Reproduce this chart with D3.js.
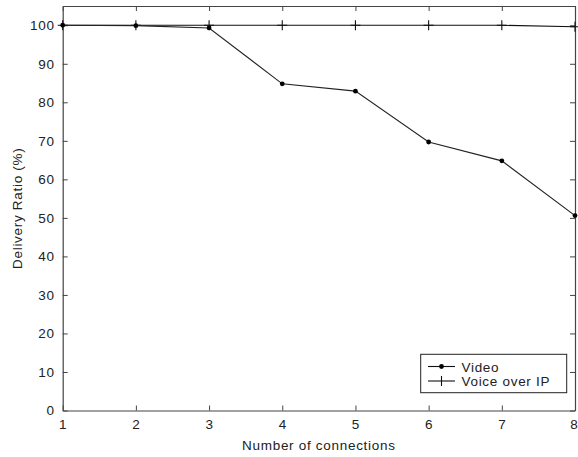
<!DOCTYPE html>
<html>
<head>
<meta charset="utf-8">
<script src="https://cdn.jsdelivr.net/npm/d3@7"></script>
<style>
  html, body { margin: 0; padding: 0; background: #fff; }
  svg text { font-family: "Liberation Sans", Arial, sans-serif; fill: #222; letter-spacing: 0.7px; }
</style>
</head>
<body>
<svg id="chart" width="578" height="457"></svg>
<script>
// Delivery ratio per number of connections
const connections = [1, 2, 3, 4, 5, 6, 7, 8];
const videoRatio = [100, 99.9, 99.3, 84.8, 82.9, 69.7, 64.8, 50.6];
const voipRatio = [100, 100, 100, 100, 100, 100, 100, 99.6];
const xTicks = [1, 2, 3, 4, 5, 6, 7, 8];
const yTicks = [0, 10, 20, 30, 40, 50, 60, 70, 80, 90, 100];
const seriesNames = ["Video", "Voice over IP"];

(function drawChart() {
  const svg = d3.select("#chart");
  const width = 578;
  const plotLeft = 62.7, plotRight = 575, plotTop = 6, plotBottom = 410.5;
  const fontSize = 13.5;
  const axisColor = "#444";

  const x = d3.scaleLinear().domain([1, 8]).range([plotLeft, plotRight]);
  const y = d3.scaleLinear().domain([0, 105]).range([plotBottom, plotTop]);

  // Axes with inward ticks, mirrored on the top and right sides
  const tickLen = 5;
  const bottomAxis = d3.axisBottom(x).tickValues(xTicks).tickSizeInner(-tickLen).tickSizeOuter(0).tickPadding(9).tickFormat(d3.format("d"));
  const topAxis = d3.axisTop(x).tickValues(xTicks).tickSizeInner(-tickLen).tickSizeOuter(0).tickFormat("");
  const leftAxis = d3.axisLeft(y).tickValues(yTicks).tickSizeInner(-tickLen).tickSizeOuter(0).tickPadding(8).tickFormat(d3.format("d"));
  const rightAxis = d3.axisRight(y).tickValues(yTicks).tickSizeInner(-tickLen).tickSizeOuter(0).tickFormat("");

  function styleAxis(g) {
    g.select(".domain").attr("stroke", axisColor).attr("stroke-width", 1.2);
    g.selectAll(".tick line").attr("stroke", axisColor);
    g.selectAll(".tick text").attr("fill", "#222").style("font-size", fontSize + "px")
      .style("font-family", '"Liberation Sans", Arial, sans-serif');
  }

  const xAxisG = svg.append("g").attr("transform", `translate(0,${plotBottom})`).call(bottomAxis).call(styleAxis);
  // keep the last tick label inside the page edge
  xAxisG.selectAll(".tick text").filter(d => d === xTicks[xTicks.length - 1])
    .attr("text-anchor", "end").attr("x", width - x(xTicks[xTicks.length - 1]));
  svg.append("g").attr("transform", `translate(0,${plotTop})`).call(topAxis).call(styleAxis);
  svg.append("g").attr("transform", `translate(${plotLeft},0)`).call(leftAxis).call(styleAxis);
  svg.append("g").attr("transform", `translate(${plotRight},0)`).call(rightAxis).call(styleAxis);

  // Axis titles
  svg.append("text")
    .attr("x", (plotLeft + plotRight) / 2).attr("y", 450)
    .attr("text-anchor", "middle")
    .style("font-size", fontSize + "px")
    .text("Number of connections");

  svg.append("text")
    .attr("transform", `translate(22,${(plotTop + plotBottom) / 2}) rotate(-90)`)
    .attr("text-anchor", "middle")
    .style("font-size", fontSize + "px")
    .text("Delivery Ratio (%)");

  const line = d3.line().x((d, i) => x(connections[i])).y(d => y(d));

  // Voice over IP series
  svg.append("path").datum(voipRatio)
    .attr("d", line).attr("fill", "none").attr("stroke", "#111").attr("stroke-width", 1.1);

  const plusSize = 5;
  svg.append("g").selectAll("path").data(voipRatio).join("path")
    .attr("d", (d, i) => {
      const cx = x(connections[i]), cy = y(d);
      return `M${cx - plusSize},${cy}H${cx + plusSize}M${cx},${cy - plusSize}V${cy + plusSize}`;
    })
    .attr("stroke", "#111").attr("stroke-width", 1.1).attr("fill", "none");

  // Video series
  svg.append("path").datum(videoRatio)
    .attr("d", line).attr("fill", "none").attr("stroke", "#222").attr("stroke-width", 1.1);

  svg.append("g").selectAll("circle").data(videoRatio).join("circle")
    .attr("cx", (d, i) => x(connections[i]))
    .attr("cy", d => y(d))
    .attr("r", 2.4)
    .attr("fill", "#000");

  // Legend
  const legend = svg.append("g");
  legend.append("rect")
    .attr("x", 420.7).attr("y", 354.3).attr("width", 146).attr("height", 38.4)
    .attr("fill", "#fff").attr("stroke", "#222").attr("stroke-width", 1);

  const rowY = [366.5, 381];
  seriesNames.forEach((name, i) => {
    const ly = rowY[i];
    legend.append("line").attr("x1", 428).attr("x2", 455).attr("y1", ly).attr("y2", ly)
      .attr("stroke", "#111").attr("stroke-width", 1.1);
    if (i === 0) {
      legend.append("circle").attr("cx", 441.5).attr("cy", ly).attr("r", 2.4).attr("fill", "#000");
    } else {
      legend.append("line").attr("x1", 441.5).attr("x2", 441.5).attr("y1", ly - plusSize).attr("y2", ly + plusSize)
        .attr("stroke", "#111").attr("stroke-width", 1.1);
    }
    legend.append("text").attr("x", 461.5).attr("y", ly + 5)
      .style("font-size", fontSize + "px").text(name);
  });
})();
</script>
</body>
</html>
